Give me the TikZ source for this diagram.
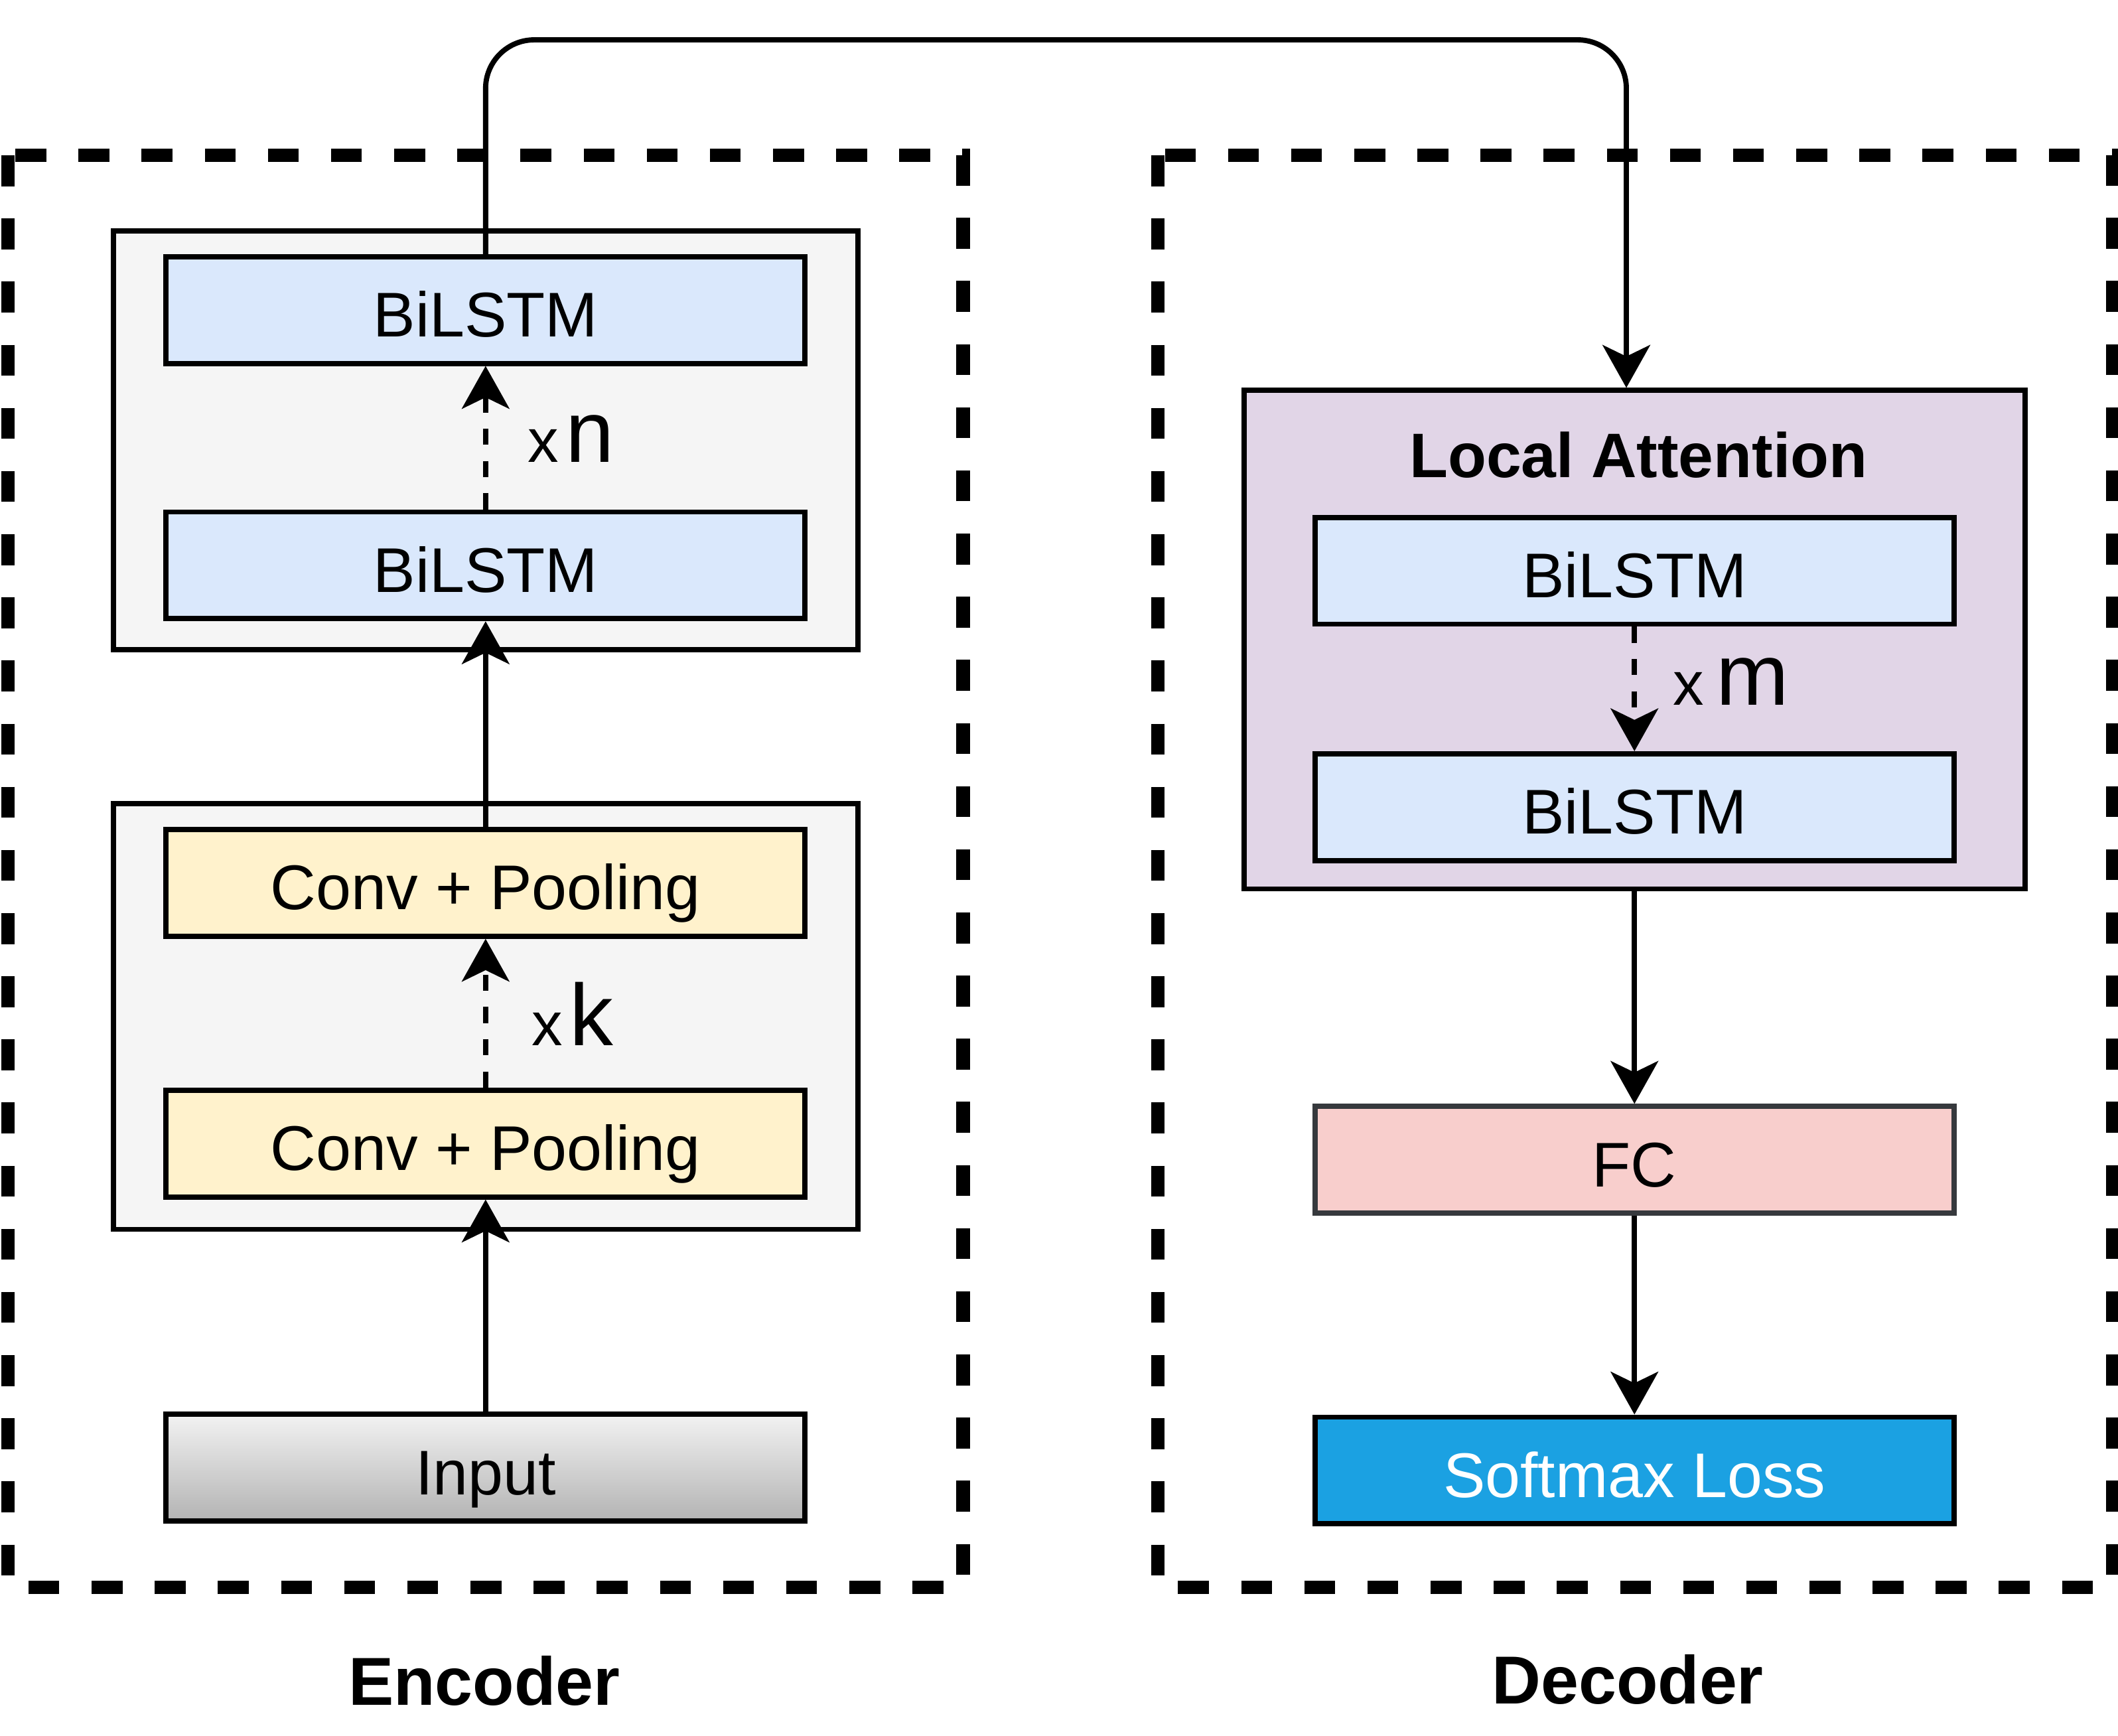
\documentclass[tikz,border=0pt]{standalone}
\usepackage{fontspec}
\setmainfont{Liberation Sans}
\usetikzlibrary{calc}
\usetikzlibrary{arrows.meta}

\definecolor{groupgray}{HTML}{F5F5F5}
\definecolor{lstmblue}{HTML}{DAE8FC}
\definecolor{convyellow}{HTML}{FFF2CC}
\definecolor{attpurple}{HTML}{E1D5E7}
\definecolor{fcred}{HTML}{F8CECC}
\definecolor{fcedge}{HTML}{36393D}
\definecolor{softblue}{HTML}{1BA1E2}
\definecolor{inputtop}{HTML}{F2F2F2}
\definecolor{inputbot}{HTML}{B3B3B3}

\begin{document}
\begin{tikzpicture}[
    >={Stealth[length=9pt, width=10pt, inset=2.4pt]},
    every node/.style={font=\fontsize{13.3}{16}\selectfont},
    block/.style={draw, line width=1.1pt, minimum width=4.73cm,
      minimum height=0.79cm, inner sep=0pt,
      text height=14pt, text depth=2.7pt},
    group/.style={draw, line width=1.1pt, inner sep=0pt},
    part/.style={draw, line width=2.8pt, dash pattern=on 6.5pt off 6.8pt},
    conn/.style={line width=1.1pt},
    rep/.style={conn, dash pattern=on 3.4pt off 3.4pt},
    caption/.style={font=\fontsize{14.3}{17}\selectfont\bfseries, anchor=base}]
  \useasboundingbox (0, 0) rectangle (15.68, -12.85);
  % encoder and decoder frames
  \draw[part] (0.06, -1.15) rectangle (7.13, -11.75);
  \draw[part] (8.57, -1.15) rectangle (15.64, -11.75);

  % encoder
  \node[group, fill=groupgray, minimum width=5.51cm, minimum height=3.10cm]
    (lstmgrp) at (3.595, -3.26) {};
  \node[group, fill=groupgray, minimum width=5.51cm, minimum height=3.15cm]
    (convgrp) at (3.595, -7.525) {};
  \node[block, fill=lstmblue] (lstmA) at (3.595, -2.295) {BiLSTM};
  \node[block, fill=lstmblue] (lstmB) at (3.595, -4.185) {BiLSTM};
  \node[block, fill=convyellow] (convA) at (3.595, -6.535) {Conv + Pooling};
  \node[block, fill=convyellow] (convB) at (3.595, -8.465) {Conv + Pooling};
  \node[block, top color=inputtop, bottom color=inputbot]
    (input) at (3.595, -10.865) {Input};

  % decoder
  \node[group, fill=attpurple, minimum width=5.78cm, minimum height=3.69cm]
    (att) at (12.10, -4.735) {};
  \node[anchor=base, font=\fontsize{13.25}{16}\selectfont\bfseries]
    (atttitle) at (12.13, -3.534) {Local Attention};
  \node[block, fill=lstmblue] (attA) at (12.10, -4.225) {BiLSTM};
  \node[block, fill=lstmblue] (attB) at (12.10, -5.975) {BiLSTM};
  \node[block, draw=fcedge, fill=fcred] (fc) at (12.10, -8.585) {FC};
  \node[block, fill=softblue, text=white] (soft) at (12.10, -10.885) {Softmax Loss};

  % repeat counts
  \node[anchor=base west, inner sep=0pt] (xn) at (3.90, -3.42)
    {{\fontsize{13}{15}\selectfont x}\kern1.5pt{\fontsize{18.4}{22}\selectfont n}};
  \node[anchor=base west, inner sep=0pt] (xk) at (3.93, -7.74)
    {{\fontsize{13}{15}\selectfont x}\kern1.5pt{\fontsize{18.4}{22}\selectfont k}};
  \node[anchor=base west, inner sep=0pt] (xm) at (12.38, -5.22)
    {{\fontsize{13}{15}\selectfont x}\kern2.5pt{\fontsize{18.4}{22}\selectfont m}};

  \node[caption] (enc) at (3.585, -12.62) {Encoder};
  \node[caption] (dec) at (12.05, -12.61) {Decoder};

  % connectors
  \draw[conn, ->] (input) -- (convB);
  \draw[rep, ->] (convB) -- (convA);
  \draw[conn, ->] (convA) -- (lstmB);
  \draw[rep, ->] (lstmB) -- (lstmA);
  \draw[rep, ->] (attA) -- (attB);
  \draw[conn, ->] (att) -- (fc);
  \draw[conn, ->] (fc) -- (soft);
  \draw[conn, ->, rounded corners=0.36cm] (lstmA.north) -- (3.595, -0.295)
    -| ([xshift=-0.6mm]att.north);
\end{tikzpicture}
\end{document}
